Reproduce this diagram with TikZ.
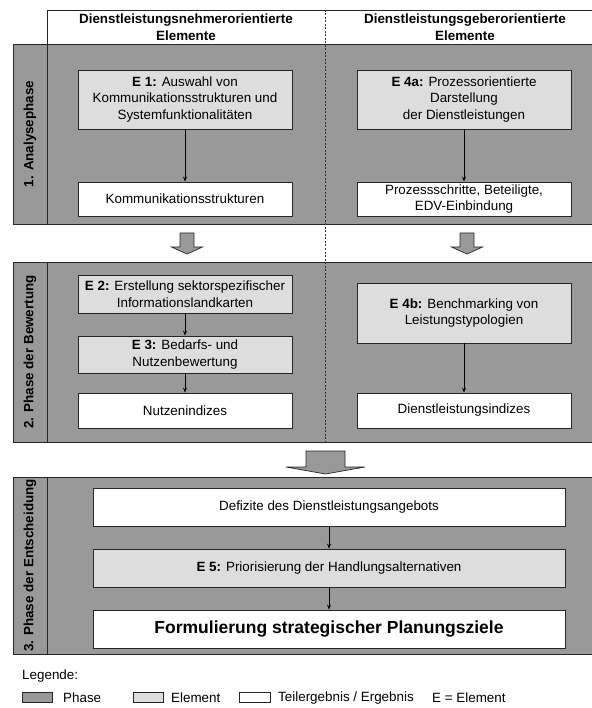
\documentclass[tikz,border=0pt]{standalone}
\usepackage{fontspec}
\setmainfont{Liberation Sans}
\usetikzlibrary{arrows.meta}
\definecolor{phasegray}{HTML}{999999}
\definecolor{elemgray}{HTML}{DDDDDD}
\newcommand{\bodyfont}{\fontsize{13.4}{16.7}\selectfont}
\tikzset{
  phasebox/.style={draw=black!85, line width=0.8pt, fill=phasegray},
  box/.style={draw=black!85, line width=0.8pt, fill=white, align=center,
    inner sep=0pt, minimum width=214pt, font=\bodyfont},
  elem/.style={box, fill=elemgray},
  wide/.style={minimum width=472pt},
  flow/.style={-{Stealth[length=5pt,width=4pt]}, line width=0.7pt},
  blockarrow/.style={draw=black!85, line width=0.7pt, fill=phasegray},
  phaselabel/.style={rotate=90, font=\bodyfont\bfseries},
  swatch/.style={draw=black!85, line width=0.7pt},
}
\begin{document}
\begin{tikzpicture}[x=1pt, y=-1pt]
  \useasboundingbox (0,0) rectangle (591,708);
  % phases
  \draw[phasebox] (13,44) rectangle (600,224);
  \draw[phasebox] (13,262) rectangle (600,442);
  \draw[phasebox] (13,477) rectangle (600,654);
  \draw[line width=0.8pt, draw=black!85] (47,44) -- (47,224)
    (47,262) -- (47,442) (47,477) -- (47,654);
  \draw[line width=0.8pt, draw=black!85] (47,44) -- (47,10) -- (600,10);
  \draw[line width=0.7pt, dash pattern=on 2pt off 1.5pt, draw=black!80] (325,10) -- (325,442);
  \node[font=\bodyfont\bfseries, align=center] (hleft) at (186,27)
    {Dienstleistungsnehmerorientierte\\Elemente};
  \node[font=\bodyfont\bfseries, align=center] (hright) at (465,27)
    {Dienstleistungsgeberorientierte\\Elemente};
  \node[phaselabel] (p1) at (30,134) {1. Analysephase};
  \node[phaselabel] (p2) at (30,352) {2. Phase der Bewertung};
  \node[phaselabel] (p3) at (30,565.5) {3. Phase der Entscheidung};
  % phase 1
  \node[elem, minimum height=59pt] (e1) at (185,99.5)
    {\textbf{E 1:} Auswahl von\\Kommunikationsstrukturen und\\Systemfunktionalitäten};
  \node[box, minimum height=34pt] (kom) at (185,199) {Kommunikationsstrukturen};
  \node[elem, minimum height=59pt] (e4a) at (464,99.5)
    {\textbf{E 4a:} Prozessorientierte\\Darstellung\\der Dienstleistungen};
  \node[box, minimum height=34pt] (proz) at (464,199)
    {Prozessschritte, Beteiligte,\\EDV-Einbindung};
  % phase 2
  \node[elem, minimum height=38pt] (e2) at (185,294)
    {\textbf{E 2:} Erstellung sektorspezifischer\\Informationslandkarten};
  \node[elem, minimum height=37pt] (e3) at (185,354.5)
    {\textbf{E 3:} Bedarfs- und\\Nutzenbewertung};
  \node[box, minimum height=35pt] (nutz) at (185,410.5) {Nutzenindizes};
  \node[elem, minimum height=60pt] (e4b) at (464,313)
    {\textbf{E 4b:} Benchmarking von\\Leistungstypologien};
  \node[box, minimum height=35pt] (dli) at (464,410.5) {Dienstleistungsindizes};
  % phase 3
  \node[box, wide, minimum height=38pt] (def) at (329,507) {Defizite des Dienstleistungsangebots};
  \node[elem, wide, minimum height=38pt] (e5) at (329,568)
    {\textbf{E 5:} Priorisierung der Handlungsalternativen};
  \node[box, wide, minimum height=38pt, font=\fontsize{17.5}{21}\selectfont\bfseries] (ziel) at (329,629)
    {Formulierung strategischer Planungsziele};
  % connectors
  \draw[flow] (e1) -- (kom);
  \draw[flow] (e4a) -- (proz);
  \draw[flow] (e2) -- (e3);
  \draw[flow] (e3) -- (nutz);
  \draw[flow] (e4b) -- (dli);
  \draw[flow] (def) -- (e5);
  \draw[flow] (e5) -- (ziel);
  % block arrows
  \draw[blockarrow] (180,233) -- (194,233) -- (194,247) -- (202.5,247) -- (187,254)
    -- (171.5,247) -- (180,247) -- cycle;
  \draw[blockarrow] (460,233) -- (474,233) -- (474,247) -- (482.5,247) -- (467,254)
    -- (451.5,247) -- (460,247) -- cycle;
  \draw[blockarrow] (306,451) -- (345,451) -- (345,467) -- (365,467) -- (325.5,474)
    -- (286,467) -- (306,467) -- cycle;
  % legend
  \node[anchor=west, font=\bodyfont, inner sep=0pt] (leg) at (22,676) {Legende:};
  \draw[swatch, fill=phasegray] (22,692) rectangle (52,702);
  \node[anchor=west, font=\bodyfont, inner sep=0pt] (lphase) at (63,698) {Phase};
  \draw[swatch, fill=elemgray] (133,692) rectangle (163,702);
  \node[anchor=west, font=\bodyfont, inner sep=0pt] (lelem) at (171,698) {Element};
  \draw[swatch, fill=white] (239,692) rectangle (270,702);
  \node[anchor=west, font=\bodyfont, inner sep=0pt] (lerg) at (278,698) {Teilergebnis / Ergebnis};
  \node[anchor=west, font=\bodyfont, inner sep=0pt] (lE) at (432,698) {E = Element};
\end{tikzpicture}
\end{document}
